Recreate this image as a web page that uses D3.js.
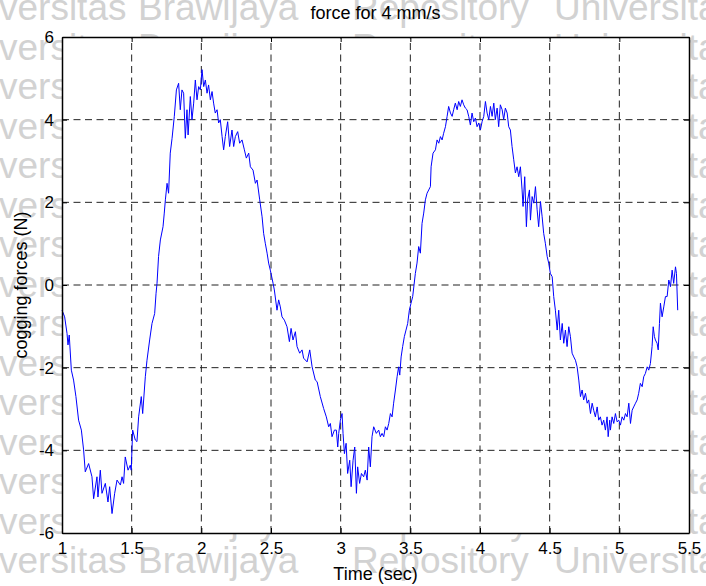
<!DOCTYPE html>
<html>
<head>
<meta charset="utf-8">
<script src="https://cdn.jsdelivr.net/npm/d3@7/dist/d3.min.js"></script>
<style>
  html, body { margin: 0; padding: 0; background: #fff; }
  svg { display: block; }
  text { font-family: "Liberation Sans", Arial, Helvetica, sans-serif; }
</style>
</head>
<body>
<svg id="chart" width="706" height="586"></svg>
<script>
// Measured cogging force (N) against time (s) at 4 mm/s: [time, force]
const forceSamples = [
  [1.000,-0.61],[1.019,-0.77],[1.036,-1.17],[1.043,-1.45],[1.052,-1.21],[1.067,-2.06],[1.083,-2.30],[1.100,-2.70],
  [1.119,-3.27],[1.139,-3.51],[1.155,-3.99],[1.167,-4.52],[1.191,-4.32],[1.215,-4.64],[1.227,-5.17],[1.251,-4.64],
  [1.258,-5.13],[1.275,-4.48],[1.287,-5.04],[1.311,-4.80],[1.330,-5.25],[1.342,-4.88],[1.359,-5.53],[1.378,-5.04],
  [1.395,-4.72],[1.419,-4.84],[1.431,-4.64],[1.442,-4.80],[1.454,-4.16],[1.474,-4.48],[1.490,-4.36],[1.497,-4.48],
  [1.507,-3.51],[1.526,-3.75],[1.538,-3.79],[1.550,-3.19],[1.569,-2.70],[1.579,-3.11],[1.598,-2.22],[1.610,-1.82],
  [1.629,-1.33],[1.646,-0.93],[1.665,-0.69],[1.675,-0.20],
  [1.682,0.04],[1.693,0.69],[1.706,1.09],[1.725,1.41],[1.734,1.74],[1.742,2.06],[1.754,2.46],[1.765,2.22],
  [1.777,3.19],[1.790,3.55],[1.806,4.08],[1.821,4.72],[1.837,4.88],[1.849,4.24],[1.861,4.72],[1.873,4.64],
  [1.885,3.55],[1.897,4.24],[1.905,3.63],[1.921,4.56],[1.933,4.00],[1.945,4.40],[1.957,4.96],[1.969,4.48],
  [1.981,4.80],[1.993,4.72],[2.005,5.21],[2.017,4.80],[2.029,4.96],[2.041,4.64],[2.052,4.84],[2.065,4.48],
  [2.077,4.68],[2.088,4.40],[2.100,4.16],[2.113,4.24],[2.124,3.92],[2.136,4.00],[2.149,3.59],[2.160,3.27],
  [2.172,3.59],[2.189,3.95],[2.203,3.35],[2.220,3.75],[2.232,3.35],[2.244,3.59],[2.261,3.71],[2.275,3.43],
  [2.292,3.51],[2.309,3.27],[2.323,3.07],[2.340,3.19],[2.352,2.86],[2.371,2.78],[2.388,2.46],[2.400,2.54],
  [2.419,2.06],[2.436,1.65],[2.447,1.25],[2.459,1.01],[2.472,0.77],[2.483,0.53],[2.495,0.36],[2.515,0.04],
  [2.524,-0.12],[2.543,-0.61],[2.555,-0.36],[2.567,-0.53],[2.579,-0.77],[2.596,-0.85],[2.615,-1.01],[2.632,-1.37],
  [2.644,-1.05],[2.658,-1.33],[2.675,-1.13],[2.687,-1.49],[2.706,-1.65],[2.723,-1.57],[2.734,-1.77],[2.759,-1.86],
  [2.778,-1.57],[2.795,-1.98],[2.818,-2.30],[2.831,-2.34],[2.854,-2.70],[2.878,-2.99],[2.897,-3.19],[2.914,-3.43],
  [2.926,-3.35],[2.938,-3.67],[2.955,-3.51],[2.969,-3.51],[2.979,-3.92],[2.986,-3.59],[2.998,-3.27],[3.010,-3.11],
  [3.017,-3.59],[3.027,-4.08],[3.039,-3.83],[3.050,-4.56],[3.065,-4.24],[3.075,-4.88],[3.089,-4.24],[3.101,-3.92],
  [3.113,-5.04],[3.122,-4.40],[3.136,-4.80],[3.149,-4.56],[3.165,-4.64],[3.177,-4.48],[3.190,-4.72],[3.201,-3.92],
  [3.213,-4.40],[3.225,-3.67],[3.237,-3.43],[3.256,-3.59],[3.273,-3.51],
  [3.285,-3.67],[3.297,-3.59],[3.309,-3.67],[3.321,-3.43],[3.333,-3.51],[3.345,-3.35],[3.357,-3.11],[3.369,-3.19],
  [3.380,-2.86],[3.393,-2.54],[3.405,-2.22],[3.416,-1.98],[3.424,-2.18],[3.434,-1.74],[3.445,-1.49],[3.457,-1.25],
  [3.469,-1.09],[3.481,-0.93],[3.493,-0.61],[3.505,-0.44],[3.517,-0.28],
  [3.536,0.28],[3.548,0.53],[3.560,0.93],[3.572,0.77],[3.584,1.49],[3.596,1.74],[3.608,2.06],[3.620,2.22],
  [3.632,2.30],[3.644,2.38],[3.649,2.86],[3.663,3.19],[3.680,3.27],[3.692,3.51],[3.704,3.43],[3.716,3.59],
  [3.728,3.51],[3.739,3.67],[3.752,3.83],[3.764,4.08],[3.775,4.32],[3.788,4.16],[3.800,4.08],[3.811,4.24],
  [3.823,4.40],[3.836,4.24],[3.847,4.44],[3.859,4.32],[3.871,4.48],[3.883,4.36],[3.895,4.28],[3.907,4.24],
  [3.919,4.08],[3.931,3.87],[3.943,4.16],[3.955,3.95],[3.967,4.04],[3.979,3.83],[3.991,3.92],[4.003,3.75],
  [4.015,3.95],[4.027,4.08],[4.039,4.44],[4.051,4.16],[4.063,4.00],[4.075,4.32],[4.087,4.08],[4.099,4.40],
  [4.110,4.00],[4.123,4.28],[4.134,3.83],
  [4.146,4.36],[4.159,4.24],[4.170,4.00],[4.182,4.28],[4.195,4.16],[4.206,3.83],[4.218,3.75],[4.230,3.35],
  [4.242,3.03],[4.254,2.71],[4.266,2.86],[4.278,2.62],[4.290,2.86],[4.302,2.30],[4.309,1.90],[4.321,2.62],
  [4.333,1.41],[4.342,2.06],[4.355,2.30],[4.362,1.57],[4.374,2.14],[4.386,1.98],[4.398,2.38],[4.410,1.82],
  [4.421,1.41],[4.434,2.02],[4.446,1.65],[4.457,1.25],[4.469,1.01],[4.482,0.69],[4.493,0.53],[4.505,0.28],
  [4.518,0.20],[4.529,-0.28],[4.541,-0.61],[4.554,-1.09],[4.565,-0.61],[4.577,-1.33],[4.590,-0.93],[4.601,-1.41],
  [4.613,-1.09],[4.625,-1.49],[4.637,-1.01],[4.649,-1.25],[4.661,-1.65],[4.673,-1.74],[4.685,-1.82],[4.697,-1.98],
  [4.709,-2.30],[4.721,-2.70],[4.733,-2.54],[4.744,-2.78],[4.757,-2.62],[4.769,-2.86],[4.780,-2.78],[4.793,-3.11],
  [4.805,-2.86],[4.816,-3.03],[4.828,-3.19],[4.841,-2.95],[4.852,-3.27],[4.864,-3.19],[4.876,-3.39],[4.888,-3.27],
  [4.900,-3.51],[4.912,-3.19],[4.920,-3.67],[4.931,-3.27],[4.936,-3.51],[4.948,-3.19],[4.960,-3.35],[4.972,-3.11],
  [4.984,-3.31],[4.996,-3.27],[5.008,-3.39],[5.020,-3.19],[5.032,-3.27],[5.044,-3.11],[5.056,-3.19],[5.068,-2.86],
  [5.080,-3.35],[5.092,-3.03],[5.103,-2.95],[5.116,-2.86],[5.128,-2.78],[5.139,-2.62],[5.151,-2.38],[5.164,-2.46],
  [5.175,-2.22],[5.187,-2.14],[5.200,-1.98],[5.211,-2.06],[5.223,-1.90],[5.235,-1.49],[5.243,-1.01],[5.252,-1.25],
  [5.259,-1.33],[5.271,-1.41],[5.279,-1.57],[5.288,-0.93],[5.295,-0.44],[5.307,-0.77],[5.319,-0.53],[5.331,-0.28],
  [5.343,-0.28],[5.355,0.12],[5.367,-0.04],[5.379,0.36],[5.390,0.04],[5.403,0.44],[5.410,0.28],[5.419,-0.61]
];

const xTicks = [1, 1.5, 2, 2.5, 3, 3.5, 4, 4.5, 5, 5.5];
const xTickLabels = ["1", "1.5", "2", "2.5", "3", "3.5", "4", "4.5", "5", "5.5"];
const yTicks = [-6, -4, -2, 0, 2, 4, 6];
const yTickLabels = ["-6", "-4", "-2", "0", "2", "4", "6"];

const titleText = "force for 4 mm/s";
const xLabelText = "Time (sec)";
const yLabelText = "cogging forces (N)";

// Repository watermark words that tile the page background
const watermarkWords = ["versitas", "Brawijaya", "Repository", "Universitas"];

const W = 706, H = 586;
const plot = { left: 62, right: 689, top: 37, bottom: 533 };

const svg = d3.select("#chart");

svg.append("rect").attr("width", W).attr("height", H).attr("fill", "#fff");

// Background watermark rows
const wmX = [-1, 138, 352, 554];
const wm = svg.append("g").attr("fill", "#d2d2d2").attr("font-size", 37);
d3.range(15).forEach(i => {
  const y = 20 + i * 39.5;
  watermarkWords.forEach((w, j) => {
    wm.append("text").attr("x", wmX[j]).attr("y", y).text(w);
  });
});

const x = d3.scaleLinear().domain([1, 5.5]).range([plot.left, plot.right]);
const y = d3.scaleLinear().domain([-6, 6]).range([plot.bottom, plot.top]);

// Plot area
svg.append("rect")
  .attr("x", plot.left).attr("y", plot.top)
  .attr("width", plot.right - plot.left).attr("height", plot.bottom - plot.top)
  .attr("fill", "#fff");

// Dashed grid
const grid = svg.append("g").attr("stroke", "#222").attr("stroke-width", 1)
  .attr("stroke-dasharray", "7,4.5").attr("fill", "none");
xTicks.slice(1, -1).forEach(t => {
  grid.append("line").attr("x1", x(t)).attr("x2", x(t))
    .attr("y1", plot.bottom).attr("y2", plot.top);
});
yTicks.slice(1, -1).forEach(t => {
  grid.append("line").attr("y1", y(t)).attr("y2", y(t))
    .attr("x1", plot.left).attr("x2", plot.right);
});

// Force trace
const line = d3.line().x(d => x(d[0])).y(d => y(d[1]));
svg.append("path")
  .datum(forceSamples)
  .attr("d", line)
  .attr("fill", "none")
  .attr("stroke", "#0000ff")
  .attr("stroke-width", 1)
  .attr("stroke-linejoin", "round");

// Axes (box with inward ticks)
const tickLen = 5;
const xAxisBottom = d3.axisBottom(x).tickValues(xTicks).tickSizeInner(-tickLen).tickSizeOuter(0)
  .tickFormat((d, i) => xTickLabels[i]).tickPadding(9);
const xAxisTop = d3.axisTop(x).tickValues(xTicks).tickSizeInner(-tickLen).tickSizeOuter(0).tickFormat("");
const yAxisLeft = d3.axisLeft(y).tickValues(yTicks).tickSizeInner(-tickLen).tickSizeOuter(0)
  .tickFormat((d, i) => yTickLabels[i]).tickPadding(8);
const yAxisRight = d3.axisRight(y).tickValues(yTicks).tickSizeInner(-tickLen).tickSizeOuter(0).tickFormat("");

function styleAxis(g) {
  g.selectAll(".domain").attr("stroke", "#000").attr("stroke-width", 1.5);
  g.selectAll(".tick line").attr("stroke", "#000").attr("stroke-width", 1);
  g.selectAll(".tick text").attr("fill", "#000").attr("font-size", 17)
    .attr("font-family", "'Liberation Sans', Arial, sans-serif");
}

svg.append("g").attr("transform", `translate(0,${plot.bottom})`).call(xAxisBottom).call(styleAxis);
svg.append("g").attr("transform", `translate(0,${plot.top})`).call(xAxisTop).call(styleAxis);
svg.append("g").attr("transform", `translate(${plot.left},0)`).call(yAxisLeft).call(styleAxis);
svg.append("g").attr("transform", `translate(${plot.right},0)`).call(yAxisRight).call(styleAxis);

// Title and axis labels
svg.append("text")
  .attr("x", (plot.left + plot.right) / 2).attr("y", 19)
  .attr("text-anchor", "middle").attr("font-size", 18).attr("fill", "#000")
  .text(titleText);

svg.append("text")
  .attr("x", (plot.left + plot.right) / 2).attr("y", 580)
  .attr("text-anchor", "middle").attr("font-size", 18).attr("fill", "#000")
  .text(xLabelText);

svg.append("text")
  .attr("transform", `translate(27,${(plot.top + plot.bottom) / 2}) rotate(-90)`)
  .attr("text-anchor", "middle").attr("font-size", 18).attr("fill", "#000")
  .text(yLabelText);
</script>
</body>
</html>
